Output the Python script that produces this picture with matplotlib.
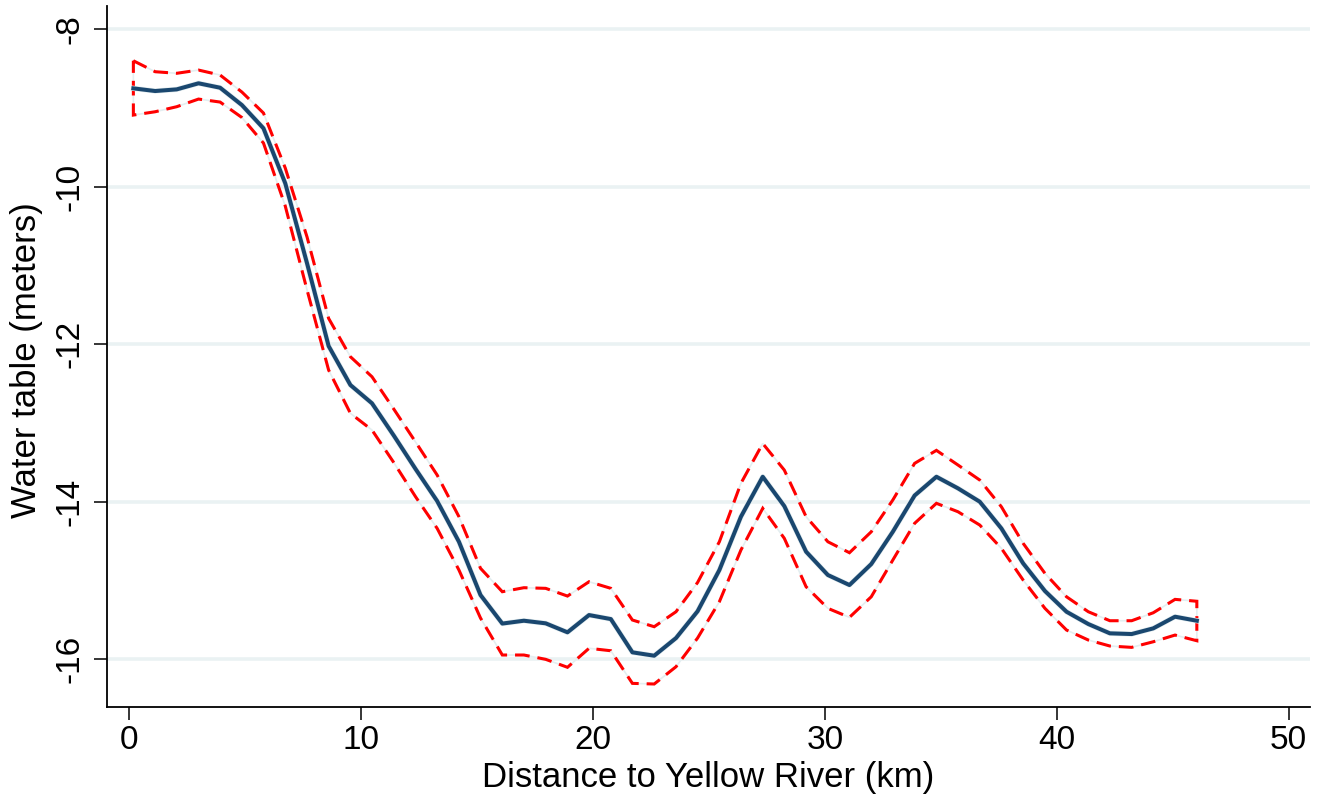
import matplotlib
matplotlib.use("Agg")
import matplotlib.pyplot as plt

plt.rcParams['font.family'] = ['Liberation Sans', 'DejaVu Sans']

distance_km = [0.18, 1.12, 2.05, 2.99, 3.92, 4.86, 5.79, 6.73, 7.67, 8.60,
               9.54, 10.47, 11.41, 12.35, 13.28, 14.22, 15.15, 16.09, 17.02, 17.96,
               18.90, 19.83, 20.77, 21.70, 22.64, 23.58, 24.51, 25.45, 26.38, 27.32,
               28.25, 29.19, 30.13, 31.06, 32.00, 32.93, 33.87, 34.81, 35.74, 36.68,
               37.61, 38.55, 39.49, 40.42, 41.36, 42.29, 43.23, 44.16, 45.10, 46.04]

water_table = [-8.754, -8.788, -8.767, -8.690, -8.746, -8.966, -9.261, -9.959, -10.975, -12.024,
               -12.519, -12.751, -13.160, -13.585, -13.991, -14.508, -15.184, -15.546, -15.510, -15.543,
               -15.657, -15.438, -15.489, -15.911, -15.954, -15.730, -15.390, -14.867, -14.190, -13.683,
               -14.055, -14.634, -14.930, -15.057, -14.791, -14.381, -13.921, -13.683, -13.830, -14.000,
               -14.338, -14.782, -15.133, -15.396, -15.552, -15.670, -15.679, -15.607, -15.459, -15.510]

ci_upper = [-8.404, -8.543, -8.563, -8.522, -8.585, -8.801, -9.067, -9.765, -10.641, -11.673,
            -12.160, -12.414, -12.824, -13.242, -13.661, -14.190, -14.845, -15.142, -15.091, -15.099,
            -15.197, -15.015, -15.099, -15.501, -15.586, -15.396, -15.025, -14.508, -13.766, -13.261,
            -13.598, -14.190, -14.508, -14.647, -14.381, -13.978, -13.513, -13.348, -13.534, -13.725,
            -14.063, -14.528, -14.909, -15.206, -15.396, -15.510, -15.510, -15.409, -15.239, -15.263]

ci_lower = [-9.093, -9.051, -8.987, -8.890, -8.928, -9.124, -9.448, -10.247, -11.313, -12.329,
            -12.878, -13.090, -13.503, -13.937, -14.338, -14.867, -15.476, -15.945, -15.945, -16.000,
            -16.101, -15.860, -15.891, -16.305, -16.313, -16.094, -15.730, -15.269, -14.613, -14.084,
            -14.464, -15.079, -15.353, -15.467, -15.206, -14.740, -14.274, -14.020, -14.127, -14.296,
            -14.591, -14.994, -15.353, -15.628, -15.755, -15.831, -15.848, -15.777, -15.692, -15.764]

x_ticks = [0, 10, 20, 30, 40, 50]
y_ticks = [-16, -14, -12, -10, -8]
x_label = "Distance to Yellow River (km)"
y_label = "Water table (meters)"

W, H = 1327, 801
fig = plt.figure(figsize=(W / 100, H / 100), dpi=100)
ax = fig.add_axes([107 / W, 1 - 706.7 / H, (1310 - 107) / W, (706.7 - 6) / H])

# CI band outline (closed polygon, like Stata rarea)
band_x = distance_km + distance_km[::-1] + [distance_km[0]]
band_y = ci_upper + ci_lower[::-1] + [ci_upper[0]]
ax.plot(band_x, band_y, color='#e4eef0', lw=1.2, zorder=2, solid_joinstyle='miter')
ax.plot(band_x, band_y, color='#ff0000', lw=2.2, zorder=3,
        dashes=(4.8, 2.6), dash_capstyle='butt', dash_joinstyle='miter')

ax.plot(distance_km, water_table, color='#e4eef0', lw=3.8, zorder=4)
ax.plot(distance_km, water_table, color='#1a476f', lw=2.9, zorder=5)

ax.set_xlim(-0.957, 50.92)
ax.set_ylim(-16.601, -7.709)
ax.set_xticks(x_ticks)
ax.set_yticks(y_ticks)
ax.set_yticklabels([str(t) for t in y_ticks], rotation=90, va='center')

ax.grid(axis='y', color='#eaf2f3', lw=2.6, zorder=0)
ax.set_axisbelow(True)
for s in ['top', 'right']:
    ax.spines[s].set_visible(False)
for s in ['left', 'bottom']:
    ax.spines[s].set_linewidth(1.3)
    ax.spines[s].set_color('black')

ax.tick_params(axis='both', direction='out', length=9.4, width=1.1, labelsize=24, colors='black')
ax.tick_params(axis='y', pad=6)
ax.tick_params(axis='x', pad=4)

fig.text(((482 + 935) / 2) / W, 1 - 778 / H, x_label, fontsize=25,
         ha='center', va='center')
fig.text(27 / W, 1 - 360 / H, y_label, fontsize=25, rotation=90,
         ha='center', va='center')

fig.savefig("out.png", dpi=100, facecolor='white')
